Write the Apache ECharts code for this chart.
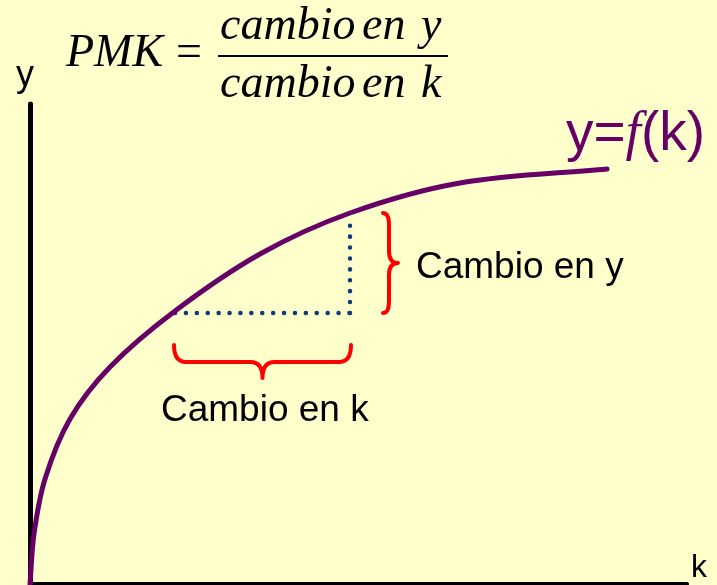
<!DOCTYPE html>
<html><head><meta charset="utf-8">
<script src="https://cdn.jsdelivr.net/npm/echarts@6/dist/echarts.min.js"></script>
<style>html,body{margin:0;padding:0;background:#FFFFCC}#c{width:717px;height:585px}</style>
</head><body><div id="c"></div>
<script>
// production function y = f(k)
const kValues = [0, 4, 15, 40, 80, 145, 230, 320, 430, 577];
const yValues = [0, 50, 105, 165, 217, 273, 330, 371, 401, 415];
// change in k and change in y
const kChange = [145, 320];
const yChange = [271, 369];
const axisNames = ['k', 'y'];
const curveLabel = ['y=', 'f', '(k)'];
const formulaLhs = 'PMK';
const formulaEq = '=';
const numeratorWords = ['cambio', 'en', 'y'];
const denominatorWords = ['cambio', 'en', 'k'];
const braceTexts = ['Cambio en y', 'Cambio en k'];

const SANS = '"Liberation Sans", Arial, sans-serif';
const SERIF = '"Liberation Serif", "Times New Roman", serif';
const chart = echarts.init(document.getElementById('c'), null, {renderer: 'canvas'});

const curveData = kValues.map((k, i) => [k, yValues[i]]);

// smooth curve through the read points (chord-length Catmull-Rom in pixel space)
function curveRender(params, api) {
  if (params.dataIndex !== 0) return null;
  const pts = kValues.map((k, i) => api.coord([k, yValues[i]]));
  const n = pts.length;
  const d = [];
  for (let i = 0; i < n - 1; i++) d.push(Math.hypot(pts[i + 1][0] - pts[i][0], pts[i + 1][1] - pts[i][1]));
  const T = pts.map((p, i) => {
    if (i === 0) return [(pts[1][0] - p[0]) / d[0], (pts[1][1] - p[1]) / d[0]];
    if (i === n - 1) return [(p[0] - pts[n - 2][0]) / d[n - 2], (p[1] - pts[n - 2][1]) / d[n - 2]];
    const s = d[i - 1] + d[i];
    return [(pts[i + 1][0] - pts[i - 1][0]) / s, (pts[i + 1][1] - pts[i - 1][1]) / s];
  });
  let path = `M${pts[0][0]} ${pts[0][1]}`;
  for (let i = 0; i < n - 1; i++) {
    const h = d[i] / 3;
    const c1 = [pts[i][0] + T[i][0] * h, pts[i][1] + T[i][1] * h];
    const c2 = [pts[i + 1][0] - T[i + 1][0] * h, pts[i + 1][1] - T[i + 1][1] * h];
    path += ` C${c1[0]} ${c1[1]} ${c2[0]} ${c2[1]} ${pts[i + 1][0]} ${pts[i + 1][1]}`;
  }
  return {type: 'path', shape: {pathData: path}, style: {stroke: '#660066', fill: null, lineWidth: 5, lineCap: 'round', lineJoin: 'round'}};
}

function braceRender(params, api) {
  const type = api.value(0), a = api.value(1), b = api.value(2), c = api.value(3);
  let d;
  if (type === 0) {
    const p1 = api.coord([a, c]), p2 = api.coord([b, c]);
    const x1 = p1[0] - 1, x2 = p2[0] + 1, top = p1[1] + 32, mid = top + 17, tip = top + 33;
    const xm = (x1 + x2) / 2, r = 12;
    d = `M${x1} ${top} Q${x1} ${mid} ${x1 + r} ${mid} L${xm - r} ${mid} Q${xm} ${mid} ${xm} ${tip} Q${xm} ${mid} ${xm + r} ${mid} L${x2 - r} ${mid} Q${x2} ${mid} ${x2} ${top}`;
  } else {
    const p1 = api.coord([c, a]), p2 = api.coord([c, b]);
    const y1 = p1[1], y2 = p2[1] - 2, left = p1[0] + 33, mid = left + 6, tip = left + 15;
    const ym = (y1 + y2) / 2, r = 12;
    d = `M${left} ${y2} Q${mid} ${y2} ${mid} ${y2 + r} L${mid} ${ym - r} Q${mid} ${ym} ${tip} ${ym} Q${mid} ${ym} ${mid} ${ym + r} L${mid} ${y1 - r} Q${mid} ${y1} ${left} ${y1}`;
  }
  return {type: 'path', shape: {pathData: d}, style: {stroke: '#FF0000', fill: null, lineWidth: 4, lineCap: 'round', lineJoin: 'round'}};
}

function txt(text, x, y, font, fill, align) {
  return {type: 'text', x: x, y: y, z: 100, style: {text: text, font: font, fill: fill || '#000', align: align || 'left', verticalAlign: 'middle'}};
}

const serifIt = 'italic 46px ' + SERIF;
const option = {
  backgroundColor: '#FFFFCC',
  animation: false,
  grid: {left: 30, right: 30, top: 104, bottom: 1},
  xAxis: {type: 'value', min: 0, max: 657, axisLine: {lineStyle: {color: '#000', width: 4}}, axisTick: {show: false}, axisLabel: {show: false}, splitLine: {show: false}},
  yAxis: {type: 'value', min: 0, max: 480, axisLine: {show: true, lineStyle: {color: '#000', width: 5}}, axisTick: {show: false}, axisLabel: {show: false}, splitLine: {show: false}},
  series: [
    {type: 'line', data: [[kChange[0], yChange[0]], [kChange[1], yChange[0]]], showSymbol: false, z: 3,
     lineStyle: {color: '#0B3C7C', width: 4.5, type: [0.1, 10.8], cap: 'round'}},
    {type: 'line', data: [[kChange[1], yChange[0]], [kChange[1], yChange[1]]], showSymbol: false, z: 3,
     lineStyle: {color: '#0B3C7C', width: 4.5, type: [0.1, 10.8], cap: 'round'}},
    {type: 'custom', renderItem: curveRender, z: 4, data: curveData, clip: false},
    {type: 'custom', renderItem: braceRender, z: 5,
     data: [[0, kChange[0], kChange[1], yChange[0]], [1, yChange[0], yChange[1], kChange[1]]]}
  ],
  graphic: [
    txt(axisNames[1], 25, 76, '36px ' + SANS, '#000', 'center'),
    txt(axisNames[0], 699, 568, '32px ' + SANS, '#000', 'center'),
    txt(braceTexts[0], 416, 268, '37px ' + SANS),
    txt(braceTexts[1], 161, 411, '37px ' + SANS),
    {type: 'text', x: 566, y: 135, z: 100, style: {
      text: '{a|' + curveLabel[0] + '}{f|' + curveLabel[1] + '}{a|' + curveLabel[2] + '}',
      verticalAlign: 'middle', align: 'left',
      rich: {a: {font: '55px ' + SANS, fill: '#660066'}, f: {font: 'italic 55px ' + SERIF, fill: '#660066'}}
    }},
    txt(formulaLhs, 66, 53.5, serifIt),
    txt(formulaEq, 176, 53.5, '46px ' + SERIF),
    {type: 'line', z: 100, shape: {x1: 218, y1: 56, x2: 448, y2: 56}, style: {stroke: '#000', lineWidth: 2}},
    txt(numeratorWords[0], 220, 27, serifIt),
    txt(numeratorWords[1], 362, 27, serifIt),
    txt(numeratorWords[2], 421, 27, serifIt),
    txt(denominatorWords[0], 220, 85, serifIt),
    txt(denominatorWords[1], 362, 85, serifIt),
    txt(denominatorWords[2], 421, 85, serifIt)
  ]
};
chart.setOption(option);
</script></body></html>
